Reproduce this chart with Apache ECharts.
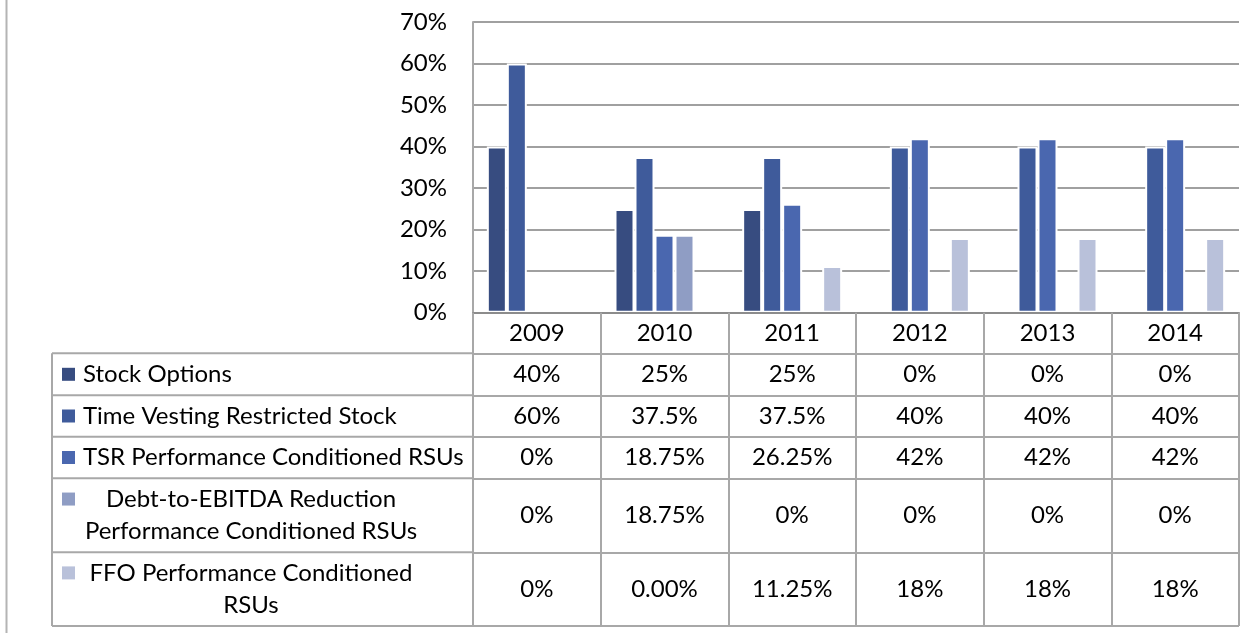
<!DOCTYPE html>
<html>
<head>
<meta charset="utf-8">
<script src="https://cdn.jsdelivr.net/npm/echarts@6/dist/echarts.min.js"></script>
<style>
html,body{margin:0;padding:0;background:#fff;}
#chart{width:1254px;height:633px;}
</style>
</head>
<body>
<div id="chart"></div>
<script>
// ---------- DATA ----------
const years = ['2009', '2010', '2011', '2012', '2013', '2014'];
const seriesNames = [
  'Stock Options',
  'Time Vesting Restricted Stock',
  'TSR Performance Conditioned RSUs',
  'Debt-to-EBITDA Reduction Performance Conditioned RSUs',
  'FFO Performance Conditioned RSUs'
];
const tableNames = [
  'Stock Options',
  'Time Vesting Restricted Stock',
  'TSR Performance Conditioned RSUs',
  'Debt-to-EBITDA Reduction\nPerformance Conditioned RSUs',
  'FFO Performance Conditioned\nRSUs'
];
const stockOptions    = [40, 25, 25, 0, 0, 0];
const timeVesting     = [60, 37.5, 37.5, 40, 40, 40];
const tsrRsus         = [0, 18.75, 26.25, 42, 42, 42];
const debtEbitdaRsus  = [0, 18.75, 0, 0, 0, 0];
const ffoRsus         = [0, 0, 11.25, 18, 18, 18];

const stockOptionsText   = ['40%', '25%', '25%', '0%', '0%', '0%'];
const timeVestingText    = ['60%', '37.5%', '37.5%', '40%', '40%', '40%'];
const tsrRsusText        = ['0%', '18.75%', '26.25%', '42%', '42%', '42%'];
const debtEbitdaRsusText = ['0%', '18.75%', '0%', '0%', '0%', '0%'];
const ffoRsusText        = ['0%', '0.00%', '11.25%', '18%', '18%', '18%'];

const yTicks = [0, 10, 20, 30, 40, 50, 60, 70];

// ---------- LAYOUT / STYLE ----------
const seriesValues = [stockOptions, timeVesting, tsrRsus, debtEbitdaRsus, ffoRsus];
const cellTexts = [stockOptionsText, timeVestingText, tsrRsusText, debtEbitdaRsusText, ffoRsusText];
const colors = ['#374C80', '#3F5B9B', '#4A67AF', '#8F9DC4', '#B9C1DA'];

const FONT = 'Lato, "Open Sans", sans-serif';
const FS = 24;
const LEFT = 473, RIGHT_X = 1239, W = 1254;
const TOP = 22;
const rowsY = [312.7, 353.3, 395.3, 436.7, 478.3, 552.3, 626];
const TABLE_LEFT = 52;
const lineColor = '#a8a8a8';
const LINE_H = 32.5;

const grids = [{ left: LEFT, right: W - RIGHT_X, top: TOP, height: rowsY[0] - TOP }];
const xAxes = [{
  type: 'category', data: years, gridIndex: 0, z: 5,
  axisLine: { lineStyle: { color: '#8c8c8c', width: 2 } },
  axisTick: { show: true, interval: 0, length: rowsY[1] - rowsY[0], lineStyle: { color: lineColor, width: 2 } },
  axisLabel: { interval: 0, color: '#000', fontSize: FS, fontFamily: FONT, verticalAlign: 'middle', margin: (rowsY[1] - rowsY[0]) / 2 }
}];
const yAxes = [{
  type: 'value', gridIndex: 0, min: yTicks[0], max: yTicks[yTicks.length - 1], interval: yTicks[1] - yTicks[0],
  axisLine: { show: true, lineStyle: { color: lineColor, width: 2 } },
  axisTick: { show: false },
  splitLine: { lineStyle: { color: '#a0a0a0', width: 2 } },
  axisLabel: { color: '#000', fontSize: FS, fontFamily: FONT, margin: 26, formatter: v => v + '%' }
}];

for (let r = 0; r < 5; r++) {
  const top = rowsY[r + 1], h = rowsY[r + 2] - rowsY[r + 1];
  grids.push({ left: LEFT, right: W - RIGHT_X, top: top, height: h });
  xAxes.push({
    type: 'category', data: years, gridIndex: r + 1, position: 'top',
    axisLine: { onZero: false, lineStyle: { color: lineColor, width: 2 } },
    axisTick: { show: true, inside: true, interval: 0, length: h, lineStyle: { color: lineColor, width: 2 } },
    axisLabel: {
      inside: true, interval: 0, margin: h / 2, verticalAlign: 'middle',
      color: '#000', fontSize: FS, fontFamily: FONT,
      formatter: (v, i) => cellTexts[r][i]
    }
  });
  yAxes.push({ type: 'value', gridIndex: r + 1, show: false, min: 0, max: 1 });
}

const series = seriesNames.map((name, i) => ({
  name: name, type: 'bar', xAxisIndex: 0, yAxisIndex: 0,
  data: seriesValues[i], barWidth: 20, barGap: '0%',
  itemStyle: { color: colors[i], borderColor: '#ffffff', borderWidth: 2 }
}));

// Legend column of the data table
const graphics = [];
graphics.push({ type: 'line', shape: { x1: 6.5, y1: 0, x2: 6.5, y2: 633 }, style: { stroke: '#b4b4b4', lineWidth: 2 } });
graphics.push({ type: 'line', shape: { x1: TABLE_LEFT, y1: rowsY[1], x2: TABLE_LEFT, y2: rowsY[6] }, style: { stroke: lineColor, lineWidth: 2 } });
for (let k = 1; k <= 5; k++) {
  graphics.push({ type: 'line', shape: { x1: TABLE_LEFT, y1: rowsY[k], x2: LEFT, y2: rowsY[k] }, style: { stroke: lineColor, lineWidth: 2 } });
}
graphics.push({ type: 'line', shape: { x1: TABLE_LEFT, y1: rowsY[6], x2: RIGHT_X, y2: rowsY[6] }, style: { stroke: lineColor, lineWidth: 2 } });

for (let r = 0; r < 5; r++) {
  const cy = (rowsY[r + 1] + rowsY[r + 2]) / 2;
  const text = tableNames[r];
  const nLines = text.split('\n').length;
  const firstLineY = cy - (nLines - 1) * LINE_H / 2;
  graphics.push({ type: 'rect', shape: { x: 62, y: firstLineY - 6.5, width: 13, height: 13 }, style: { fill: colors[r] } });
  if (nLines === 1) {
    graphics.push({ type: 'text', style: { text: text, x: 83, y: cy, fill: '#000', fontSize: FS, fontFamily: FONT,
      align: 'left', textAlign: 'left', verticalAlign: 'middle', textVerticalAlign: 'middle' } });
  } else {
    graphics.push({ type: 'text', style: { text: text, x: 251, y: cy, fill: '#000', fontSize: FS, fontFamily: FONT, lineHeight: LINE_H,
      align: 'center', textAlign: 'center', verticalAlign: 'middle', textVerticalAlign: 'middle' } });
  }
}

const chart = echarts.init(document.getElementById('chart'), null, { renderer: 'canvas' });
chart.setOption({
  animation: false,
  backgroundColor: '#ffffff',
  grid: grids,
  xAxis: xAxes,
  yAxis: yAxes,
  series: series,
  graphic: graphics
});
</script>
</body>
</html>
